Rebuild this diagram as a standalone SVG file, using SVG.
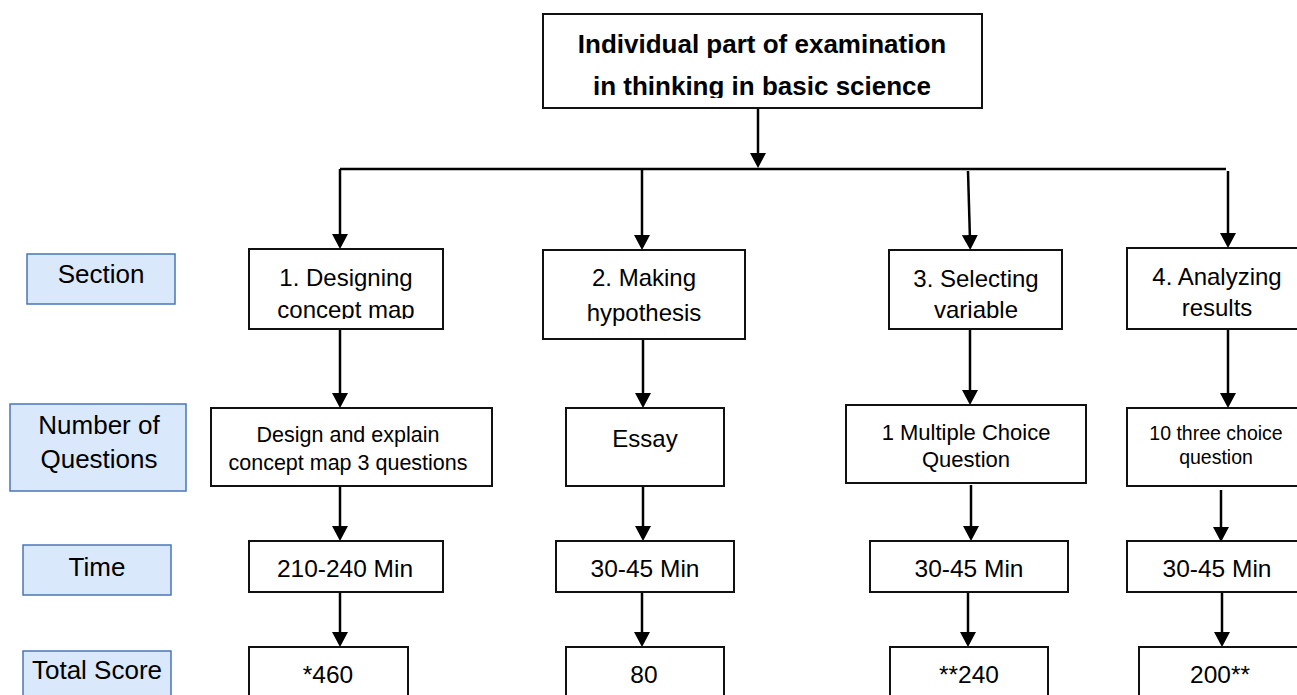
<svg xmlns="http://www.w3.org/2000/svg" width="1297" height="695" viewBox="0 0 1297 695">
<style>
text{font-family:"Liberation Sans",Arial,sans-serif;fill:#000;text-anchor:middle}
.box{fill:#fff;stroke:#111;stroke-width:2}
.lbl{fill:#DAE8FB;stroke:#4A76B5;stroke-width:1.5}
.lt{font-size:26px}
.st{font-size:24px}
.tt{font-size:24.5px}
.title{font-size:26px;font-weight:bold}
.con line,.con polyline{stroke:#000;stroke-width:2.5;fill:none}
.arr{marker-end:url(#ah)}
</style>
<defs>
<marker id="ah" markerWidth="16" markerHeight="16" refX="5" refY="8" orient="auto" markerUnits="userSpaceOnUse">
<path d="M0,0 L15,8 L0,16 z" fill="#000"/>
</marker>
<clipPath id="clipTop"><rect x="543" y="14" width="439" height="84"/></clipPath>
<clipPath id="clipB1"><rect x="249" y="249" width="194" height="70"/></clipPath>
</defs>

<rect width="1297" height="695" fill="#fff"/>

<g id="connectors" class="con">
<line class="arr" x1="758" y1="108" x2="758" y2="158"/>
<line x1="340" y1="169" x2="1226" y2="169"/>
<line class="arr" x1="340" y1="169" x2="340" y2="239"/>
<line class="arr" x1="642" y1="169" x2="642" y2="240"/>
<line class="arr" x1="968" y1="171" x2="970" y2="240"/>
<line class="arr" x1="1228" y1="171" x2="1228" y2="238"/>

<line class="arr" x1="340" y1="329" x2="340" y2="398"/>
<line class="arr" x1="643" y1="326" x2="643" y2="398"/>
<line class="arr" x1="970" y1="329" x2="970" y2="395"/>
<line class="arr" x1="1228" y1="326" x2="1228" y2="398"/>

<line class="arr" x1="340" y1="486" x2="340" y2="531"/>
<line class="arr" x1="643" y1="486" x2="643" y2="531"/>
<line class="arr" x1="971" y1="485" x2="971" y2="531"/>
<line class="arr" x1="1221" y1="490" x2="1221" y2="532"/>

<line class="arr" x1="340" y1="592" x2="340" y2="637"/>
<line class="arr" x1="642" y1="592" x2="642" y2="637"/>
<line class="arr" x1="968" y1="592" x2="968" y2="637"/>
<line class="arr" x1="1222" y1="592" x2="1222" y2="637"/>
</g>

<g id="title">
<rect class="box" x="543" y="14" width="439" height="94"/>
<g clip-path="url(#clipTop)">
<text class="title" x="762" y="53">Individual part of examination</text>
<text class="title" x="762" y="95">in thinking in basic science</text>
</g>
</g>

<g id="label-section"><rect class="lbl" x="27" y="254" width="148" height="50"/><text class="lt" x="101" y="283">Section</text></g>
<g id="label-number"><rect class="lbl" x="10" y="404" width="176" height="87"/><text class="lt" x="99" y="434">Number of</text><text class="lt" x="99" y="468">Questions</text></g>
<g id="label-time"><rect class="lbl" x="23" y="545" width="148" height="50"/><text class="lt" x="97" y="576">Time</text></g>
<g id="label-score"><rect class="lbl" x="23" y="651" width="148" height="52"/><text class="lt" x="97" y="679">Total Score</text></g>

<g id="section1"><rect class="box" x="249" y="249" width="194" height="80"/>
<g clip-path="url(#clipB1)"><text class="st" x="346" y="286">1. Designing</text><text class="st" x="346" y="318">concept map</text></g></g>
<g id="section2"><rect class="box" x="543" y="250" width="202" height="89"/><text class="st" x="644" y="286">2. Making</text><text class="st" x="644" y="321">hypothesis</text></g>
<g id="section3"><rect class="box" x="889" y="250" width="173" height="79"/><text class="st" x="976" y="287">3. Selecting</text><text class="st" x="976" y="318">variable</text></g>
<g id="section4"><rect class="box" x="1127" y="248" width="175" height="81"/><text class="st" x="1217" y="285">4. Analyzing</text><text class="st" x="1217" y="316">results</text></g>

<g id="questions1"><rect class="box" x="211" y="408" width="281" height="78"/><text style="font-size:21.5px" x="348" y="442">Design and explain</text><text style="font-size:21.5px" x="348" y="470">concept map 3 questions</text></g>
<g id="questions2"><rect class="box" x="566" y="408" width="158" height="78"/><text class="st" x="645" y="447">Essay</text></g>
<g id="questions3"><rect class="box" x="846" y="405" width="240" height="78"/><text style="font-size:22px" x="966" y="440">1 Multiple Choice</text><text style="font-size:22px" x="966" y="467">Question</text></g>
<g id="questions4"><rect class="box" x="1127" y="408" width="175" height="78"/><text style="font-size:19.5px" x="1216" y="440">10 three choice</text><text style="font-size:19.5px" x="1216" y="464">question</text></g>

<g id="time1"><rect class="box" x="249" y="541" width="194" height="51"/><text class="tt" x="345" y="577">210-240 Min</text></g>
<g id="time2"><rect class="box" x="556" y="541" width="178" height="51"/><text class="tt" x="645" y="577">30-45 Min</text></g>
<g id="time3"><rect class="box" x="870" y="541" width="198" height="51"/><text class="tt" x="969" y="577">30-45 Min</text></g>
<g id="time4"><rect class="box" x="1127" y="541" width="175" height="51"/><text class="tt" x="1217" y="577">30-45 Min</text></g>

<g id="score1"><rect class="box" x="249" y="647" width="159" height="56"/><text class="tt" x="328" y="683">*460</text></g>
<g id="score2"><rect class="box" x="566" y="647" width="158" height="56"/><text class="tt" x="644" y="683">80</text></g>
<g id="score3"><rect class="box" x="890" y="647" width="158" height="56"/><text class="tt" x="969" y="683">**240</text></g>
<g id="score4"><rect class="box" x="1139" y="647" width="163" height="56"/><text class="tt" x="1220" y="683">200**</text></g>
</svg>
